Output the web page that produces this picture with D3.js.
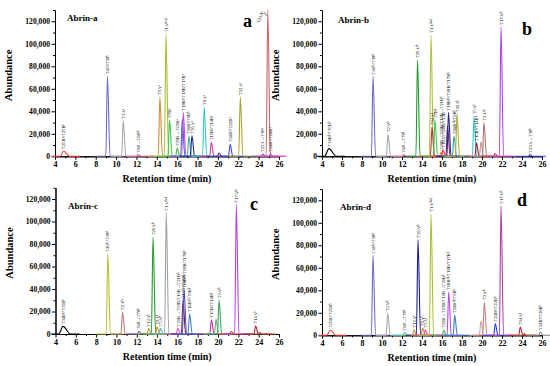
<!doctype html>
<html lang="en">

<head>
  <meta charset="utf-8">
  <title>Abrin chromatograms</title>
  <style>
    body { margin: 0; background: #fff; }
    svg { display: block; }
    text { font-family: "Liberation Serif", "Times New Roman", serif; font-weight: bold; fill: #000; }
    .domain, .tick line { stroke: #000; stroke-width: 1; }
  </style>
</head>

<body>
  <div id="chart"></div>
  <script src="https://d3js.org/d3.v7.min.js"></script>
  <script>
    // Data ----------------------------------------------------------------------------------------
    const xTicks = [4, 6, 8, 10, 12, 14, 16, 18, 20, 22, 24, 26];
    const xMinor = [5, 7, 9, 11, 13, 15, 17, 19, 21, 23, 25];
    const yTicks = [0, 20000, 40000, 60000, 80000, 100000, 120000];
    const yMinor = [10000, 30000, 50000, 70000, 90000, 110000, 130000];

    // t = retention time (min), h = abundance, w = half width at base (min)
    const peaksA = [
      { t: 4.85, h: 4700, w: 0.35, label: "T25Bᵃ/T25Bᵇ" },
      { t: 9.15, h: 71400, label: "T40ᵃ/T38ᵇ" },
      { t: 10.7, h: 31700, label: "T2Aᵃ" },
      { t: 12.15, h: 1500, label: "T68→T68ᵃᵇ" },
      { t: 14.3, h: 52700, label: "T9Aᵃ" },
      { t: 14.9, h: 108400, label: "T1Aᵃᵇᶜᵈ" },
      { t: 15.25, h: 32300, label: "T7Bᵃ" },
      { t: 16.0, h: 7100, label: "T29B→T23Bᵃ" },
      { t: 16.5, h: 33000, label: "" },
      { t: 16.6, h: 38800, label: "T18Bᵃ/T18B/T17Bᵃ" },
      { t: 17.15, h: 18000, label: "T16Bᵃ/T9Bᵇ" },
      { t: 17.45, h: 18500, label: "T20Aᵃ" },
      { t: 18.65, h: 43900, label: "T6Aᵃ" },
      { t: 19.35, h: 12400, label: "T15Bᵃ/T14Bᵃ" },
      { t: 20.1, h: 3000, label: "" },
      { t: 21.2, h: 10700, label: "T24Bᵃ/T22Bᵃ" },
      { t: 22.2, h: 52700, label: "T12Aᵃ" },
      { t: 24.4, h: 2000, label: "T23A→T38ᵃ" },
      { t: 24.9, h: 130000, label: "T25Aᵃ" },
      { t: 25.15, h: 2000, label: "T24Bᵃ/T26Bᵃ" }
    ];
    const coloursA = ["#ff3a3a", "#6c6cc4", "#a8a8a8", "#e0609c", "#d0893a", "#a6be2e", "#3cc850",
      "#46b046", "#3a6eb4", "#c648f0", "#38a8b0", "#202890", "#38c8cc", "#c838a8", "#2a3a9a",
      "#3848e8", "#a8a030", "#8050c0", "#c86464", "#d040d0"];

    const peaksB = [
      { t: 4.7, h: 6800, w: 0.45, label: "T34Bᵇ/T35Bᵇ" },
      { t: 9.1, h: 71000, label: "T40ᵇᶜ/T38ᵈ" },
      { t: 10.6, h: 19500, label: "T2Aᵃᵇ" },
      { t: 12.17, h: 1500, label: "T68→T78ᵇ" },
      { t: 13.55, h: 85500, label: "T20Aᵃᵇ" },
      { t: 14.9, h: 108000, label: "T1Aᵃᵇᶜᵈ" },
      { t: 15.0, h: 26000, label: "T14Aᵇ" },
      { t: 15.3, h: 32000, label: "T7Bᵇ" },
      { t: 15.9, h: 3500, label: "T29B→T23B/T19B→T21Bᵇ" },
      { t: 16.1, h: 6000, label: "T16Aᵃ/T20B/T23B" },
      { t: 16.55, h: 27000, label: "" },
      { t: 16.65, h: 39000, label: "T18Bᵃᵇ/T18B/T17Bᵇ" },
      { t: 17.2, h: 18000, label: "T16Bᵃᵇ/T9Bᵇ" },
      { t: 17.5, h: 37500, label: "T20Aᵇ" },
      { t: 19.2, h: 35500, label: "T5Aᵇ" },
      { t: 19.45, h: 12000, label: "T15Bᵃ/T14Bᵇ" },
      { t: 19.9, h: 13000, label: "" },
      { t: 20.2, h: 29800, label: "T3Aᵃᵇ" },
      { t: 21.3, h: 2500, label: "" },
      { t: 21.9, h: 115000, label: "T17Aᵃᵇ" },
      { t: 24.8, h: 1500, label: "T23A→T38ᵇ" }
    ];
    const coloursB = ["#000000", "#6c6cc4", "#a8a8a8", "#e0609c", "#1f9a2a", "#b0c040", "#b03040",
      "#3cc850", "#f08030", "#ff3a3a", "#802050", "#202890", "#30a0b0", "#b0b030", "#30c8d0",
      "#a02030", "#c89090", "#b07070", "#ff3030", "#b040f0", "#3848e8"];

    const peaksC = [
      { t: 4.75, h: 6800, w: 0.45, label: "T34Bᵇ/T35Bᵇ" },
      { t: 9.15, h: 71500, label: "T40ᵇᶜ/T38ᵈ" },
      { t: 10.6, h: 19600, label: "T2Aᵇᶜ" },
      { t: 12.2, h: 2500, label: "T68→T78ᵇ" },
      { t: 13.17, h: 5000, label: "T12Aᵇ" },
      { t: 13.6, h: 85900, label: "T20Aᵃᵇ" },
      { t: 14.0, h: 6500, label: "T9Aᵇ" },
      { t: 14.33, h: 5000, label: "T5Aᵇ" },
      { t: 14.9, h: 108000, label: "T1Aᵃᵇᶜᵈ" },
      { t: 16.05, h: 5000, label: "T29B→T23B/T19B→T21Bᵇ" },
      { t: 16.55, h: 30000, label: "T14Bᵃ/T20B" },
      { t: 16.65, h: 38800, label: "T18Bᵃᵇ/T18B/T17Bᵇ" },
      { t: 17.2, h: 18000, label: "T16Bᵃᵇ/T9Bᵇ" },
      { t: 19.35, h: 12700, label: "T15Bᵃ/T14Bᵇ" },
      { t: 19.8, h: 13000, label: "" },
      { t: 20.1, h: 29900, label: "T3Aᵃᵇ" },
      { t: 21.3, h: 2500, label: "" },
      { t: 21.8, h: 115000, label: "T17Aᵃᵇ" },
      { t: 23.7, h: 7400, label: "T14Aᵇ" },
      { t: 24.1, h: 1500, label: "" }
    ];
    const coloursC = ["#000000", "#b8c030", "#c07878", "#5a5ad0", "#a8a030", "#1f9a2a", "#e08a30",
      "#30c8d0", "#a0a0a0", "#e040e0", "#802040", "#5050c0", "#4080c0", "#c030a0", "#60b878",
      "#40a060", "#ff3030", "#b040f0", "#b02030", "#a06040"];

    const peaksD = [
      { t: 4.83, h: 4500, w: 0.35, label: "T25Bᵃ/T25Bᵇ" },
      { t: 9.1, h: 71000, label: "T40ᵇᶜ/T38ᵈ" },
      { t: 10.57, h: 19500, label: "T2Aᵃᵇ" },
      { t: 12.27, h: 2500, label: "T68→T78ᵇ" },
      { t: 13.2, h: 5000, label: "T12Aᵇ" },
      { t: 13.6, h: 85000, label: "T20Aᵃᵇ" },
      { t: 14.07, h: 6500, label: "T9Aᵇ" },
      { t: 14.33, h: 5000, label: "T5Aᵇ" },
      { t: 14.9, h: 108000, label: "T1Aᵃᵇᶜᵈ" },
      { t: 16.17, h: 4500, label: "T29B→T23B/T19B→T21Bᵇ" },
      { t: 16.67, h: 38500, label: "T18Bᵃᵇ/T18B/T17Bᵇ" },
      { t: 17.27, h: 18000, label: "T16Bᵃᵇ/T9Bᵇ" },
      { t: 19.9, h: 13000, label: "" },
      { t: 20.23, h: 29500, label: "T3Aᵃᵇ" },
      { t: 21.33, h: 10500, label: "T24Bᵃ/T22Bᵇ" },
      { t: 21.9, h: 115000, label: "T17Aᵃᵇ" },
      { t: 23.83, h: 7400, label: "T14Aᵇ" },
      { t: 24.2, h: 1500, label: "" },
      { t: 25.83, h: 3000, label: "T24Bᵃ/T26Bᵇ" }
    ];
    const coloursD = ["#ff3a3a", "#6c6cc4", "#a8a8a8", "#30c8d0", "#a8a030", "#1a1a90", "#e08a30",
      "#e040b0", "#a8c030", "#3cb040", "#c040f0", "#3080c0", "#d0a0a0", "#c08080", "#2040f0",
      "#b03ca0", "#c02030", "#a06040", "#808080"];

    // Layout -----------------------------------------------------------------------------------------
    const width = 550;
    const height = 366;

    const panels = [
      { key: "a", title: "Abrin-a", peaks: peaksA, colours: coloursA, left: 55, right: 279, bottom: 156.3,
        titleX: 67, titleY: 20.5, letterX: 243, letterY: 27 },
      { key: "b", title: "Abrin-b", peaks: peaksB, colours: coloursB, left: 322, right: 542, bottom: 156.3,
        titleX: 338, titleY: 22.5, letterX: 522, letterY: 35 },
      { key: "c", title: "Abrin-c", peaks: peaksC, colours: coloursC, left: 55.5, right: 279, bottom: 334,
        titleX: 68, titleY: 209, letterX: 250, letterY: 210 },
      { key: "d", title: "Abrin-d", peaks: peaksD, colours: coloursD, left: 322, right: 542, bottom: 335.3,
        titleX: 340, titleY: 210, letterX: 517, letterY: 206 }
    ];

    const svg = d3.select("#chart")
      .append("svg")
      .attr("width", width)
      .attr("height", height)
      .attr("viewBox", [0, 0, width, height]);

    panels.forEach(p => {
      const g = svg.append("g");

      const x = d3.scaleLinear().domain([4, 26]).range([p.left, p.right]);
      const y = d3.scaleLinear().domain([0, 130000]).range([p.bottom, p.bottom - 146.25]);

      // Axes --------------------------------------------------------------------------------------
      g.append("g")
        .attr("transform", "translate(0," + p.bottom + ")")
        .call(d3.axisBottom(x).tickValues(xMinor).tickSize(2).tickFormat("").tickSizeOuter(0));
      const xAxis = g.append("g")
        .attr("transform", "translate(0," + p.bottom + ")")
        .call(d3.axisBottom(x).tickValues(xTicks).tickSize(3.5).tickSizeOuter(0).tickPadding(2));
      xAxis.selectAll("text").style("font-size", "8px");

      g.append("g")
        .attr("transform", "translate(" + p.left + ",0)")
        .call(d3.axisLeft(y).tickValues(yMinor).tickSize(2).tickFormat("").tickSizeOuter(0));
      const yAxis = g.append("g")
        .attr("transform", "translate(" + p.left + ",0)")
        .call(d3.axisLeft(y).tickValues(yTicks).tickSize(3.5).tickSizeOuter(0).tickPadding(1.5)
          .tickFormat(d3.format(",")));
      yAxis.selectAll("text").style("font-size", "7.6px");
      g.selectAll(".domain").attr("stroke", "#000");

      // Peaks ---------------------------------------------------------------------------------------
      const line = d3.line()
        .x(d => x(d[0]))
        .y(d => y(d[1]))
        .curve(d3.curveMonotoneX);

      p.peaks.forEach((pk, i) => {
        const w = pk.w || 0.16;
        const pts = [[pk.t - 1.2, 0], [pk.t - w, 0], [pk.t, pk.h], [pk.t + w * 1.6, 0], [pk.t + 1.6, 0]];
        g.append("path")
          .attr("d", line(pts))
          .attr("fill", "none")
          .attr("stroke", p.colours[i])
          .attr("stroke-width", 1.1);
      });

      // Peak labels ---------------------------------------------------------------------------------
      p.peaks.forEach(pk => {
        if (!pk.label) return;
        const px = x(pk.t);
        if (pk.h > 122000) {
          // no room above the apex: slanted label ending just left of the top, with a pointer
          const ax = px - 3;
          const ay = y(pk.h) + 3;
          g.append("line")
            .attr("x1", ax - 1).attr("y1", ay - 1)
            .attr("x2", px - 0.5).attr("y2", y(pk.h) + 6)
            .attr("stroke", "#000").attr("stroke-width", 0.6);
          g.append("text")
            .attr("transform", "translate(" + (ax - 1) + "," + (ay - 1) + ") rotate(-70)")
            .attr("text-anchor", "end")
            .style("font-size", "4.6px")
            .style("font-weight", "normal")
            .text(pk.label);
          return;
        }
        g.append("text")
          .attr("transform", "translate(" + (px + 1.6) + "," + (y(pk.h) - 2) + ") rotate(-90)")
          .attr("text-anchor", "start")
          .style("font-size", "4.6px")
          .style("font-weight", "normal")
          .text(pk.label);
      });

      // Titles ----------------------------------------------------------------------------------------
      g.append("text")
        .attr("x", p.titleX)
        .attr("y", p.titleY)
        .style("font-size", "9px")
        .text(p.title);

      g.append("text")
        .attr("x", p.letterX)
        .attr("y", p.letterY)
        .style("font-size", "18px")
        .text(p.key);

      g.append("text")
        .attr("x", (p.left + p.right) / 2)
        .attr("y", p.bottom + 26)
        .attr("text-anchor", "middle")
        .style("font-size", "10px")
        .text("Retention time (min)");

      g.append("text")
        .attr("transform", "translate(" + (p.left - 43) + "," + (p.bottom - 81) + ") rotate(-90)")
        .attr("text-anchor", "middle")
        .style("font-size", "10.5px")
        .text("Abundance");
    });
  </script>
</body>

</html>
